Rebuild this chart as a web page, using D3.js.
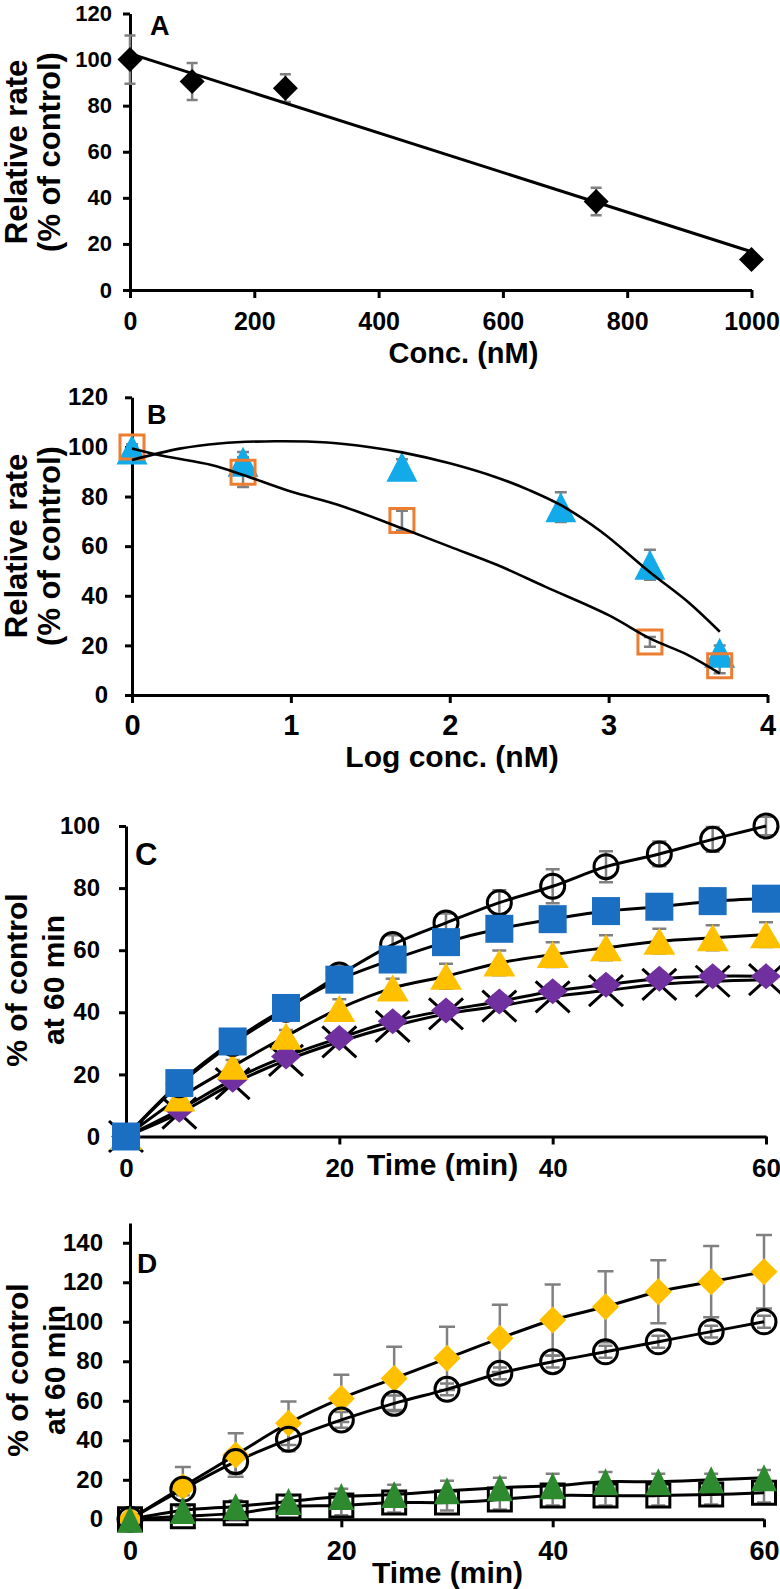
<!DOCTYPE html>
<html><head><meta charset="utf-8">
<script src="https://cdn.jsdelivr.net/npm/d3@7"></script>
<style>
body{margin:0;background:#fff;}
svg{display:block;font-family:"Liberation Sans",Arial,Helvetica,sans-serif;font-weight:bold;}
</style></head><body>
<svg id="chart" width="780" height="1589"></svg>
<script>
// ---------- Panel A ----------
const concA = [0, 100, 250, 750, 1000];
const rateA = [100, 90.5, 87.6, 38.4, 13.2];
const errA  = [10.5, 8, 6, 6, 2];
const fitAx = [0, 1000];
const fitAy = [102.6, 16.6];
const yTicksA = [0, 20, 40, 60, 80, 100, 120];
const xTicksA = [0, 200, 400, 600, 800, 1000];

// ---------- Panel B ----------
const logTriB = [0, 0.699, 1.699, 2.699, 3.26, 3.699];
const rateTriB = [99, 94, 92, 75.7, 52.5, 17];
const errTriB  = [2, 4, 3, 6, 6, 3];
const logSqB = [0, 0.699, 1.699, 3.26, 3.699];
const rateSqB = [100, 89.8, 70.3, 21.4, 11.8];
const errSqB  = [1, 6, 4, 2, 3];
const fitTriBx = [0, 0.3, 0.55, 0.9, 1.23, 1.5, 1.7, 2.0, 2.3, 2.5, 2.7, 2.95, 3.26, 3.5, 3.7];
const fitTriBy = [94.7, 99.3, 101.4, 102.3, 101.8, 99.9, 97.8, 93.4, 87.6, 82.6, 76.5, 66, 49.5, 37.5, 25.5];
const fitSqBx = [0, 0.2, 0.5, 0.7, 1, 1.3, 1.7, 2, 2.3, 2.6, 3, 3.26, 3.5, 3.7];
const fitSqBy = [99.4, 96.3, 92.7, 88.7, 82, 76.6, 67.2, 59.8, 52.4, 43.7, 32.2, 22.8, 16.1, 8.7];
const yTicksB = [0, 20, 40, 60, 80, 100, 120];
const xTicksB = [0, 1, 2, 3, 4];

// ---------- Panel C ----------
const timeC = [0, 5, 10, 15, 20, 25, 30, 35, 40, 45, 50, 55, 60];
const circC = [0, 16.7, 30, 41, 52, 61.8, 68.8, 75.3, 80.6, 86.9, 91, 95.7, 100];
const circErrC = [0, 2, 2, 2, 3, 3, 3, 4, 5.5, 5, 4, 4, 3];
const sqC = [0, 17.2, 30.6, 41.4, 50.5, 57, 62.6, 66.9, 70, 72.6, 74, 75.8, 76.6];
const sqErrC = [0, 2, 2, 2, 3, 3, 3, 3, 3, 3, 4, 4, 4];
const triC = [0, 12.4, 22.6, 32.3, 41.2, 47.8, 51.6, 55.9, 58.6, 60.8, 62.9, 64, 65];
const triErrC = [0, 2, 2, 2, 3, 3, 4, 4, 4, 4, 4, 4, 4];
const diaC = [0, 8.6, 18.3, 25.8, 31.7, 37.1, 40.6, 43.5, 46.8, 48.9, 50.8, 51.6, 51.6];
const diaErrC = [0, 1, 1, 2, 2, 2, 2, 2, 2, 2, 2, 2, 2];
const crossC = [0, 7.5, 17, 24.5, 30.5, 35.5, 39.5, 42, 45, 47, 49, 50, 50.5];
const yTicksC = [0, 20, 40, 60, 80, 100];
const xTicksC = [0, 20, 40, 60];

// ---------- Panel D ----------
const timeD = [0, 5, 10, 15, 20, 25, 30, 35, 40, 45, 50, 55, 60];
const diaD = [0, 16.5, 32.6, 48.6, 61.2, 71.3, 81.5, 91.6, 100.9, 107.6, 115.2, 120.3, 125.3];
const diaErrD = [0, 10, 11, 11, 12, 16, 16, 17, 18, 18, 16, 18, 18.6];
const circD = [0, 15.2, 29.2, 40.5, 50.3, 58.7, 65.8, 73.9, 79.8, 84.8, 89.9, 95, 100];
const circErrD = [0, 3, 6, 6, 4, 4, 3, 3, 3, 3, 3, 3, 3];
const triD = [0, 4.5, 6.5, 9, 11.5, 12.5, 14.5, 16, 17, 19, 19, 20, 21];
const triErrD = [0, 3, 3, 3, 4, 5, 5, 5, 6, 5, 4, 3, 4];
const sqD = [0, 1.5, 3, 6.5, 7, 8.5, 8.5, 10, 12, 12, 12, 12.5, 13.5];
const sqErrD = [0, 3, 3, 3, 5, 5, 4, 5, 5, 5, 5, 5, 5];
const yTicksD = [0, 20, 40, 60, 80, 100, 120, 140];
const xTicksD = [0, 20, 40, 60];

// ---------- drawing ----------
const svg = d3.select("#chart");
const GRAY = "#808080";
const fmt = d3.format("d");
const shapes = {
  diamond: (w, h) => `M0,${-h/2}L${w/2},0L0,${h/2}L${-w/2},0Z`,
  triangle: (w, h) => `M0,${-h/2}L${w/2},${h/2}L${-w/2},${h/2}Z`,
  square: (w, h) => `M${-w/2},${-h/2}H${w/2}V${h/2}H${-w/2}Z`,
  circle: (w, h) => `M${-w/2},0A${w/2},${h/2} 0 1,0 ${w/2},0A${w/2},${h/2} 0 1,0 ${-w/2},0Z`,
  cross: (w, h) => `M${-w/2},${-h/2}L${w/2},${h/2}M${w/2},${-h/2}L${-w/2},${h/2}`
};

function makePanel(c) {
  const g = svg.append("g");
  const x = d3.scaleLinear().domain(c.xDomain).range(c.xRange);
  const y = d3.scaleLinear().domain(c.yDomain).range(c.yRange);
  const ga = g.append("g").attr("transform", `translate(0,${c.yRange[0]})`)
    .call(d3.axisBottom(x).tickValues(c.xTicks).tickFormat(fmt).tickSize(8).tickSizeOuter(0));
  const gl = g.append("g").attr("transform", `translate(${c.xRange[0]},0)`)
    .call(d3.axisLeft(y).tickValues(c.yTicks).tickFormat(fmt).tickSize(7).tickSizeOuter(0).tickPadding(c.yPad));
  [ga, gl].forEach(a => {
    a.attr("font-family", null).attr("font-size", null);
    a.select(".domain").attr("stroke", "#000").attr("stroke-width", 3);
    a.selectAll(".tick line").attr("stroke", "#000").attr("stroke-width", 3);
    a.selectAll("text").attr("fill", "#000").attr("font-weight", "bold");
  });
  ga.selectAll("text").attr("dy", null).attr("y", c.xLabOff).attr("font-size", c.xFont);
  gl.selectAll("text").attr("font-size", c.yFont);
  return {g, x, y};
}

function errBars(p, xs, ys, es, cap) {
  const d = xs.map((v, i) => ({x: v, y: ys[i], e: es[i]})).filter(d => d.e > 0);
  p.g.append("g").attr("stroke", GRAY).attr("stroke-width", 2.5).attr("fill", "none")
    .selectAll("path").data(d).join("path")
    .attr("d", d => {
      const cx = p.x(d.x), y1 = p.y(d.y + d.e), y2 = p.y(Math.max(0, d.y - d.e));
      return `M${cx},${y1}V${y2}M${cx - cap/2},${y1}H${cx + cap/2}M${cx - cap/2},${y2}H${cx + cap/2}`;
    });
}
function line(p, xs, ys, sw, curve) {
  p.g.append("path")
    .attr("d", d3.line().x((d, i) => p.x(xs[i])).y(d => p.y(d)).curve(curve || d3.curveCatmullRom)(ys))
    .attr("fill", "none").attr("stroke", "#000").attr("stroke-width", sw).attr("stroke-linejoin", "round");
}
function markers(p, xs, ys, shape, w, h, fill, stroke, sw) {
  p.g.append("g").selectAll("path").data(ys).join("path")
    .attr("transform", (d, i) => `translate(${p.x(xs[i])},${p.y(d)})`)
    .attr("d", shapes[shape](w, h))
    .attr("fill", fill).attr("stroke", stroke || "none").attr("stroke-width", sw || 0);
}
function txt(x, y, s, fs, anchor) {
  svg.append("text").attr("x", x).attr("y", y).attr("font-size", fs)
    .attr("text-anchor", anchor || "start").attr("fill", "#000").text(s);
}
function vtxt(x, yc, s, fs) {
  svg.append("text").attr("transform", `translate(${x},${yc}) rotate(-90)`)
    .attr("font-size", fs).attr("text-anchor", "middle").attr("fill", "#000").text(s);
}

// Panel A
const pA = makePanel({xDomain: [0, 1000], xRange: [130, 751.5], yDomain: [0, 120], yRange: [290, 13.5],
  xTicks: xTicksA, yTicks: yTicksA, xFont: 25, yFont: 22, yPad: 11, xLabOff: 40});
errBars(pA, concA, rateA, errA, 11);
line(pA, fitAx, fitAy, 3, d3.curveLinear);
markers(pA, concA, rateA, "diamond", 25, 25, "#000");
txt(150, 35, "A", 27);
txt(463.5, 363, "Conc. (nM)", 29, "middle");
vtxt(27, 152, "Relative rate", 31);
vtxt(60, 152, "(% of control)", 31);

// Panel B
const pB = makePanel({xDomain: [0, 4], xRange: [132, 767.5], yDomain: [0, 120], yRange: [695, 397.3],
  xTicks: xTicksB, yTicks: yTicksB, xFont: 29, yFont: 24, yPad: 17, xLabOff: 40});
errBars(pB, logTriB, rateTriB, errTriB, 12);
errBars(pB, logSqB, rateSqB, errSqB, 12);
markers(pB, logTriB, rateTriB, "triangle", 31, 30, "#12AAE8");
markers(pB, logSqB, rateSqB, "square", 24, 24, "none", "#ED7D31", 3);
line(pB, fitTriBx, fitTriBy, 2.6);
line(pB, fitSqBx, fitSqBy, 2.6);
txt(147, 424, "B", 27);
txt(452, 767, "Log conc. (nM)", 30, "middle");
vtxt(27, 546, "Relative rate", 31);
vtxt(60, 546, "(% of control)", 31);

// Panel C
const pC = makePanel({xDomain: [0, 60], xRange: [126, 766], yDomain: [0, 100], yRange: [1136.5, 826],
  xTicks: xTicksC, yTicks: yTicksC, xFont: 26, yFont: 24, yPad: 19, xLabOff: 40.5});
errBars(pC, timeC, circC, circErrC, 14);
errBars(pC, timeC, sqC, sqErrC, 14);
errBars(pC, timeC, triC, triErrC, 14);
errBars(pC, timeC, diaC, diaErrC, 14);
line(pC, timeC, crossC, 3);
line(pC, timeC, diaC, 3);
line(pC, timeC, triC, 3);
line(pC, timeC, circC, 3);
line(pC, timeC, sqC, 3);
markers(pC, timeC, crossC, "cross", 34, 31, "none", "#000", 3);
markers(pC, timeC, diaC, "diamond", 30, 26, "#7030A0");
markers(pC, timeC, triC, "triangle", 32, 27, "#FFC000");
markers(pC, timeC, circC, "circle", 24, 24, "none", "#000", 3);
markers(pC, timeC, sqC, "square", 28, 28, "#1B6FC2");
txt(135, 865, "C", 31);
txt(367, 1175, "Time (min)", 30);
vtxt(27, 980, "% of control", 30);
vtxt(64, 980, "at 60 min", 30);

// Panel D
const pD = makePanel({xDomain: [0, 60], xRange: [130, 764], yDomain: [0, 150], yRange: [1519.3, 1223],
  xTicks: xTicksD, yTicks: yTicksD, xFont: 27, yFont: 24, yPad: 20, xLabOff: 41});
errBars(pD, timeD, diaD, diaErrD, 16);
errBars(pD, timeD, circD, circErrD, 14);
errBars(pD, timeD, sqD, sqErrD, 14);
errBars(pD, timeD, triD, triErrD, 14);
line(pD, timeD, diaD, 3);
line(pD, timeD, circD, 3);
line(pD, timeD, sqD, 3);
line(pD, timeD, triD, 3);
markers(pD, timeD, diaD, "diamond", 27, 27, "#FFC000");
markers(pD, timeD, circD, "circle", 24, 24, "none", "#000", 3);
markers(pD, timeD, sqD, "square", 23, 23, "none", "#000", 3);
markers(pD, timeD, triD, "triangle", 26, 27, "#2D8A2F");
txt(137, 1273, "D", 28);
txt(447.5, 1583, "Time (min)", 30, "middle");
vtxt(28, 1370, "% of control", 30);
vtxt(65, 1370, "at 60 min", 30);
</script>
</body></html>
